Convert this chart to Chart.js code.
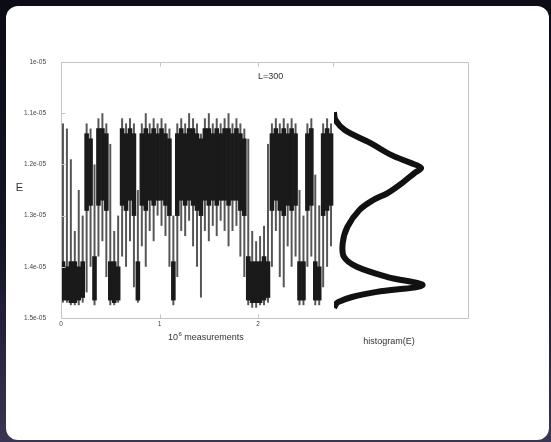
<!DOCTYPE html>
<html>
<head>
<meta charset="utf-8">
<script src="https://cdn.jsdelivr.net/npm/chart.js@4/dist/chart.umd.min.js"></script>
<style>
  html, body { margin: 0; padding: 0; }
  body {
    width: 551px; height: 442px; overflow: hidden; position: relative;
    background: linear-gradient(180deg, #0b0c16 0%, #141528 55%, #3a3553 100%);
  }
  .card { position: absolute; left: 6px; top: 6px; width: 543px; height: 434px; background: #fff; border-radius: 12px; }
  canvas { position: absolute; top: 0; }
  #series { left: 0; }
  #hist { left: 300px; }
</style>
</head>
<body>
<div class="card"></div>
<canvas id="series" width="340" height="360"></canvas>
<canvas id="hist" width="251" height="360"></canvas>
<script>
// time series, binned (bin width 0.04 x 10^6 measurements), E in units of 1e-05
const BIN_WIDTH = 0.04;
const spikeMin = [1.12, 1.13, 1.19, 1.33, 1.25, 1.30, 1.12, 1.13, 1.20, 1.11, 1.10, 1.12, 1.16, 1.33, 1.30, 1.11, 1.12, 1.11, 1.12, 1.25,
  1.12, 1.10, 1.12, 1.11, 1.12, 1.11, 1.12, 1.13, 1.30, 1.12, 1.11, 1.12, 1.10, 1.11, 1.12, 1.14, 1.11, 1.10, 1.12, 1.11,
  1.12, 1.11, 1.10, 1.12, 1.11, 1.12, 1.13, 1.15, 1.33, 1.35, 1.34, 1.32, 1.16, 1.12, 1.11, 1.12, 1.11, 1.12, 1.11, 1.12,
  1.25, 1.30, 1.12, 1.11, 1.22, 1.28, 1.12, 1.11, 1.12];
const spikeMax = [1.47, 1.47, 1.475, 1.475, 1.475, 1.47, 1.45, 1.40, 1.475, 1.38, 1.35, 1.42, 1.475, 1.475, 1.47, 1.38, 1.40, 1.35, 1.44, 1.47,
  1.36, 1.40, 1.33, 1.35, 1.30, 1.32, 1.34, 1.40, 1.475, 1.42, 1.33, 1.34, 1.31, 1.36, 1.40, 1.46, 1.33, 1.35, 1.32, 1.34,
  1.31, 1.33, 1.36, 1.33, 1.32, 1.38, 1.42, 1.475, 1.48, 1.48, 1.475, 1.475, 1.47, 1.40, 1.33, 1.42, 1.44, 1.36, 1.40, 1.38,
  1.475, 1.475, 1.40, 1.38, 1.475, 1.475, 1.44, 1.40, 1.36];
const coreMin = [1.39, 1.40, 1.39, 1.39, 1.40, 1.39, 1.14, 1.15, 1.38, 1.13, 1.13, 1.14, 1.39, 1.39, 1.40, 1.13, 1.14, 1.13, 1.14, 1.39,
  1.14, 1.13, 1.14, 1.13, 1.14, 1.13, 1.14, 1.15, 1.39, 1.14, 1.13, 1.14, 1.13, 1.13, 1.14, 1.15, 1.13, 1.13, 1.14, 1.13,
  1.14, 1.13, 1.13, 1.14, 1.13, 1.14, 1.15, 1.38, 1.39, 1.39, 1.39, 1.38, 1.39, 1.14, 1.13, 1.14, 1.13, 1.14, 1.13, 1.14,
  1.39, 1.39, 1.14, 1.13, 1.39, 1.40, 1.14, 1.13, 1.14];
const coreMax = [1.465, 1.465, 1.47, 1.47, 1.465, 1.46, 1.29, 1.28, 1.465, 1.28, 1.27, 1.29, 1.465, 1.47, 1.465, 1.28, 1.29, 1.27, 1.30, 1.465,
  1.28, 1.29, 1.27, 1.28, 1.27, 1.27, 1.28, 1.30, 1.465, 1.30, 1.27, 1.28, 1.27, 1.28, 1.29, 1.30, 1.27, 1.28, 1.27, 1.28,
  1.27, 1.27, 1.28, 1.27, 1.27, 1.29, 1.30, 1.465, 1.47, 1.47, 1.47, 1.465, 1.46, 1.29, 1.27, 1.29, 1.30, 1.28, 1.29, 1.28,
  1.465, 1.465, 1.29, 1.28, 1.465, 1.465, 1.30, 1.29, 1.28];

// histogram(E)
const histE = [1.098, 1.113, 1.133, 1.158, 1.182, 1.197, 1.207, 1.217, 1.236, 1.256, 1.27, 1.289, 1.322, 1.354, 1.381, 1.40, 1.42, 1.436, 1.449, 1.459, 1.469, 1.475, 1.48];
const histCount = [0.0, 0.01, 0.08, 0.27, 0.43, 0.57, 0.65, 0.60, 0.51, 0.40, 0.29, 0.19, 0.10, 0.065, 0.075, 0.17, 0.40, 0.66, 0.32, 0.135, 0.03, 0.01, 0.0];

const FRAME = "#c4c4c4";
const TEXT = "#333";
const FONT = "'Liberation Sans', Arial, sans-serif";

const binX = spikeMin.map((_, i) => BIN_WIDTH * i + BIN_WIDTH / 2);

const seriesFrame = {
  id: "seriesFrame",
  afterDraw(chart) {
    const { ctx, chartArea: a, scales: { x, y } } = chart;
    const L = Math.round(a.left) + 0.5, T = Math.round(a.top) + 0.5, B = Math.round(a.bottom) + 0.5;
    ctx.save();
    ctx.strokeStyle = FRAME;
    ctx.lineWidth = 1;
    ctx.beginPath();
    ctx.moveTo(a.right, T); ctx.lineTo(L, T); ctx.lineTo(L, B); ctx.lineTo(a.right, B);
    x.ticks.forEach(t => {
      const px = Math.round(x.getPixelForValue(t.value)) + 0.5;
      ctx.moveTo(px, T); ctx.lineTo(px, T + 4);
      ctx.moveTo(px, B); ctx.lineTo(px, B - 4);
    });
    y.ticks.forEach(t => {
      const py = Math.round(y.getPixelForValue(t.value)) + 0.5;
      ctx.moveTo(L, py); ctx.lineTo(L + 4, py);
    });
    ctx.stroke();

    ctx.fillStyle = TEXT;
    ctx.textBaseline = "middle";
    ctx.font = "11px " + FONT;
    ctx.textAlign = "center";
    ctx.fillText("E", 19.5, 188);
    ctx.textAlign = "left";
    ctx.font = "9px " + FONT;
    ctx.fillText("L=300", 258, 77);
    // 10^6 measurements
    let tx = 168;
    ctx.fillText("10", tx, 338);
    tx += ctx.measureText("10").width + 0.5;
    ctx.font = "6px " + FONT;
    ctx.fillText("6", tx, 334);
    tx += ctx.measureText("6").width;
    ctx.font = "9px " + FONT;
    ctx.fillText(" measurements", tx, 338);
    ctx.restore();
  }
};

const histFrame = {
  id: "histFrame",
  afterDraw(chart) {
    const { ctx, chartArea: a } = chart;
    const R = Math.round(a.right) + 0.5, T = Math.round(a.top) + 0.5, B = Math.round(a.bottom) + 0.5;
    ctx.save();
    ctx.strokeStyle = FRAME;
    ctx.lineWidth = 1;
    ctx.beginPath();
    ctx.moveTo(a.left - 1, T); ctx.lineTo(R, T); ctx.lineTo(R, B); ctx.lineTo(a.left - 1, B);
    ctx.moveTo(a.left - 0.5, T); ctx.lineTo(a.left - 0.5, T + 4);
    ctx.stroke();
    ctx.fillStyle = TEXT;
    ctx.textBaseline = "middle";
    ctx.textAlign = "center";
    ctx.font = "9px " + FONT;
    ctx.fillText("histogram(E)", 89, 341.5);
    ctx.restore();
  }
};

const eLabel = v => (Math.abs(v - 1) < 1e-9 ? "1e-05" : v.toFixed(1) + "e-05");

new Chart(document.getElementById("series"), {
  type: "bar",
  data: {
    datasets: [
      {
        // dense core, drawn on top
        data: binX.map((t, i) => ({ x: t, y: [coreMin[i], coreMax[i]] })),
        backgroundColor: "#1a1a1a",
        barPercentage: 1,
        categoryPercentage: 1,
        grouped: false,
        borderWidth: 0,
        order: 1
      },
      {
        // excursions
        data: binX.map((t, i) => ({ x: t, y: [spikeMin[i], spikeMax[i]] })),
        backgroundColor: "#555",
        barPercentage: 0.5,
        categoryPercentage: 1,
        grouped: false,
        borderWidth: 0,
        order: 2
      }
    ]
  },
  options: {
    responsive: false,
    animation: false,
    layout: { padding: { top: 62, left: 0, right: 6, bottom: 0 } },
    plugins: { legend: { display: false }, tooltip: { enabled: false } },
    scales: {
      x: {
        type: "linear",
        offset: false,
        min: 0,
        max: 2.77,
        grid: { display: false, drawTicks: false, tickLength: 0 },
        border: { display: false },
        ticks: { stepSize: 1, includeBounds: false, padding: 2, color: "#444", font: { family: FONT, size: 6.5 } },
        afterFit: s => { s.height = 42; }
      },
      y: {
        type: "linear",
        reverse: true,
        min: 1.0,
        max: 1.5,
        grid: { display: false, drawTicks: false, tickLength: 0 },
        border: { display: false },
        ticks: { stepSize: 0.1, padding: 15, color: "#444", font: { family: FONT, size: 6.5 }, callback: eLabel },
        afterFit: s => { s.width = 61; }
      }
    }
  },
  plugins: [seriesFrame]
});

new Chart(document.getElementById("hist"), {
  type: "line",
  data: {
    datasets: [
      {
        data: histE.map((e, i) => ({ x: histCount[i], y: e })),
        borderColor: "#111",
        borderWidth: 6,
        tension: 0.35,
        pointRadius: 0,
        fill: false
      }
    ]
  },
  options: {
    responsive: false,
    animation: false,
    layout: { padding: { top: 62, left: 34, right: 83, bottom: 42 } },
    plugins: { legend: { display: false }, tooltip: { enabled: false } },
    scales: {
      x: { type: "linear", min: 0, max: 1, display: false },
      y: { type: "linear", reverse: true, min: 1.0, max: 1.5, display: false }
    }
  },
  plugins: [histFrame]
});
</script>
</body>
</html>
